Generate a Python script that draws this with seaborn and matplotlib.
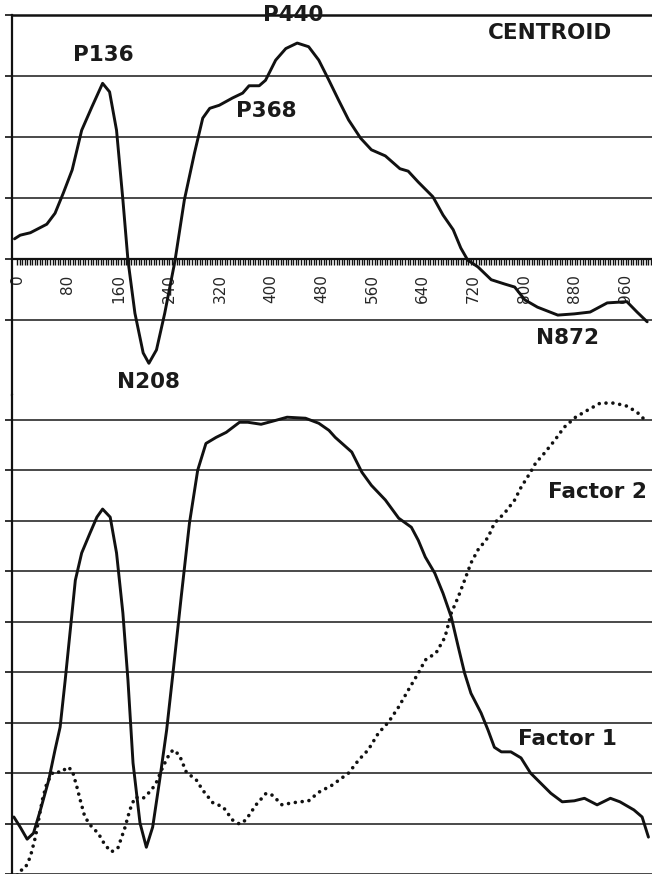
import numpy as np
import pandas as pd
import matplotlib
matplotlib.use("Agg")
import matplotlib.pyplot as plt
import seaborn as sns

# ---- data (time in ms) ----
# centroid waveform (top panel)
cen_t = [-4, 5, 21, 47, 60, 73, 87, 102, 118, 135, 146, 157, 167, 175, 186, 199, 208, 220, 233, 249,
         264, 280, 293, 304, 319, 340, 356, 366, 382, 392, 408, 424, 442, 460, 476, 492, 507, 523, 542, 559,
         581, 604, 617, 633, 656, 672, 688, 700, 711, 727, 748, 769, 785, 801, 821, 853, 879, 904, 931, 962,
         978, 994]
cen_v = [0.33, 0.39, 0.43, 0.57, 0.75, 1.08, 1.46, 2.11, 2.49, 2.88, 2.74, 2.11, 0.97, -0.02, -0.89, -1.54, -1.71, -1.49, -0.89, -0.04,
         0.97, 1.74, 2.31, 2.47, 2.52, 2.64, 2.72, 2.84, 2.84, 2.93, 3.26, 3.45, 3.54, 3.48, 3.26, 2.93, 2.61, 2.28, 1.98, 1.79,
         1.69, 1.48, 1.44, 1.26, 1.02, 0.72, 0.48, 0.18, -0.02, -0.13, -0.34, -0.41, -0.46, -0.67, -0.79, -0.92, -0.90, -0.87, -0.72, -0.70,
         -0.87, -1.03]

# factor 1 loadings (solid, bottom panel)
f1_t = [-5, 5, 16, 26, 37, 50, 60, 68, 76, 84, 92, 102, 115, 126, 135, 147, 157, 167, 175, 183,
        194, 204, 214, 225, 236, 246, 259, 272, 285, 298, 314, 330, 351, 364, 385, 403, 426, 455, 476, 492,
        502, 528, 544, 559, 581, 602, 622, 633, 644, 659, 672, 685, 696, 706, 716, 732, 743, 753, 764, 779,
        795, 810, 826, 842, 860, 879, 895, 915, 936, 951, 973, 986, 996]
f1_v = [1.13, 0.93, 0.69, 0.81, 1.27, 1.86, 2.46, 2.91, 3.84, 4.83, 5.82, 6.36, 6.75, 7.07, 7.23, 7.07, 6.36, 5.17, 3.84, 2.20,
        1.01, 0.53, 0.93, 1.86, 2.85, 3.98, 5.49, 6.95, 8.00, 8.53, 8.65, 8.75, 8.95, 8.95, 8.91, 8.97, 9.05, 9.03, 8.93, 8.79,
        8.65, 8.36, 7.96, 7.70, 7.41, 7.05, 6.87, 6.61, 6.28, 5.96, 5.56, 5.09, 4.50, 3.98, 3.58, 3.19, 2.85, 2.51, 2.42, 2.42,
        2.30, 2.00, 1.80, 1.60, 1.43, 1.45, 1.50, 1.37, 1.50, 1.43, 1.27, 1.13, 0.73]

# factor 2 loadings (dotted, bottom panel)
f2_t = [-4, 2, 13, 21, 29, 40, 47, 57, 71, 79, 87, 95, 99, 107, 118, 128, 139, 149, 159, 170,
        178, 186, 199, 212, 220, 230, 238, 246, 256, 267, 283, 293, 309, 325, 340, 351, 361, 377, 393, 403,
        418, 434, 460, 476, 497, 523, 539, 554, 570, 586, 602, 617, 633, 644, 661, 675, 685, 696, 706, 716,
        727, 743, 753, 769, 785, 795, 809, 818, 832, 848, 863, 881, 900, 920, 942, 962, 978, 994]
f2_v = [-0.2, 0.04, 0.12, 0.34, 0.73, 1.47, 1.80, 2.02, 2.02, 2.12, 2.06, 1.70, 1.50, 1.13, 0.93, 0.81, 0.57, 0.44, 0.51, 0.91,
        1.27, 1.52, 1.50, 1.66, 1.82, 2.12, 2.32, 2.46, 2.36, 2.02, 1.86, 1.66, 1.41, 1.33, 1.07, 0.99, 1.07, 1.37, 1.60, 1.56,
        1.37, 1.41, 1.45, 1.62, 1.76, 2.00, 2.26, 2.46, 2.79, 3.01, 3.31, 3.64, 3.98, 4.24, 4.38, 4.69, 5.17, 5.49, 5.82, 6.16,
        6.42, 6.67, 6.95, 7.15, 7.41, 7.66, 7.94, 8.14, 8.34, 8.59, 8.85, 9.05, 9.19, 9.33, 9.33, 9.27, 9.15, 8.95]

xtick_vals = list(range(0, 961, 80))

# peak labels: (text, ms, value)
top_labels = [("P136", 136, 3.34), ("P440", 435, 4.0), ("P368", 393, 2.43),
              ("CENTROID", 840, 3.70), ("N208", 208, -2.02), ("N872", 869, -1.30)]
bottom_labels = [("Factor 2", 916, 7.56), ("Factor 1", 869, 2.67)]

sns.set_style("white")
plt.rcParams['font.family'] = ['DejaVu Sans']

W, H = 652, 874
fig = plt.figure(figsize=(W / 100, H / 100), dpi=100)
# top panel spans px 15..395, bottom panel px 395..874
ax_top = fig.add_axes([12 / W, 1 - 395 / H, 640 / W, 380 / H])
ax_bot = fig.add_axes([12 / W, 0, 640 / W, 479 / H])

line_col = '#111111'
grid_col = '#3a3a3a'
xlim = (-7.9, 1001.6)

# ---- top panel: centroid ----
cen_df = pd.DataFrame({'t': cen_t, 'v': cen_v})
sns.lineplot(data=cen_df, x='t', y='v', ax=ax_top, color=line_col, lw=2.1,
             estimator=None, zorder=3)
ax_top.set_xlim(*xlim)
ax_top.set_ylim(-2.23, 4.0)
ax_top.set_yticks([-1, 0, 1, 2, 3, 4])
ax_top.set_yticklabels([])
ax_top.grid(axis='y', color=grid_col, lw=1.3)
ax_top.grid(axis='x', visible=False)
ax_top.set_axisbelow(True)
ax_top.spines['right'].set_visible(False)
ax_top.spines['top'].set_color('#111111')
ax_top.spines['top'].set_linewidth(1.8)
ax_top.spines['left'].set_color('#111111')
ax_top.spines['left'].set_linewidth(1.6)
ax_top.spines['bottom'].set_position(('data', 0))
ax_top.spines['bottom'].set_color('#111111')
ax_top.spines['bottom'].set_linewidth(1.6)

ax_top.set_xticks(xtick_vals)
ax_top.set_xticklabels([str(v) for v in xtick_vals], rotation=90, fontsize=11)
ax_top.set_xticks(np.arange(0, 1001, 4), minor=True)
ax_top.tick_params(axis='x', which='both', direction='out', length=4, width=1,
                   color='#111111', pad=7, bottom=True)
ax_top.tick_params(axis='y', direction='out', length=5, width=1.2, color='#111111', left=True)
ax_top.set_xlabel('')
ax_top.set_ylabel('')

for txt, tx, ty in top_labels:
    ax_top.text(tx, ty, txt, ha='center', va='center', fontsize=15.5,
                fontweight='bold', color='#1a1a1a', clip_on=False, zorder=5)

# ---- bottom panel: factor loadings ----
f1_df = pd.DataFrame({'t': f1_t, 'v': f1_v})
f2_df = pd.DataFrame({'t': f2_t, 'v': f2_v})
sns.lineplot(data=f1_df, x='t', y='v', ax=ax_bot, color=line_col, lw=2.1,
             estimator=None, zorder=3)
sns.lineplot(data=f2_df, x='t', y='v', ax=ax_bot, color=line_col, lw=2.6,
             linestyle=(0, (0.01, 1.9)), dash_capstyle='round',
             estimator=None, zorder=3)
ax_bot.set_xlim(*xlim)
ax_bot.set_ylim(0, 9.49)
ax_bot.set_yticks(range(0, 10))
ax_bot.set_yticklabels([])
ax_bot.set_xticks([])
ax_bot.grid(axis='y', color=grid_col, lw=1.3)
ax_bot.grid(axis='x', visible=False)
ax_bot.set_axisbelow(True)
for s in ['right', 'top', 'bottom']:
    ax_bot.spines[s].set_visible(False)
ax_bot.spines['left'].set_color('#111111')
ax_bot.spines['left'].set_linewidth(1.6)
ax_bot.tick_params(axis='y', direction='out', length=5, width=1.2, color='#111111', left=True)
ax_bot.set_xlabel('')
ax_bot.set_ylabel('')

for txt, tx, ty in bottom_labels:
    ax_bot.text(tx, ty, txt, ha='center', va='center', fontsize=15.5,
                fontweight='bold', color='#1a1a1a', zorder=5)

fig.savefig('out.png', dpi=100)
print("saved out.png")
